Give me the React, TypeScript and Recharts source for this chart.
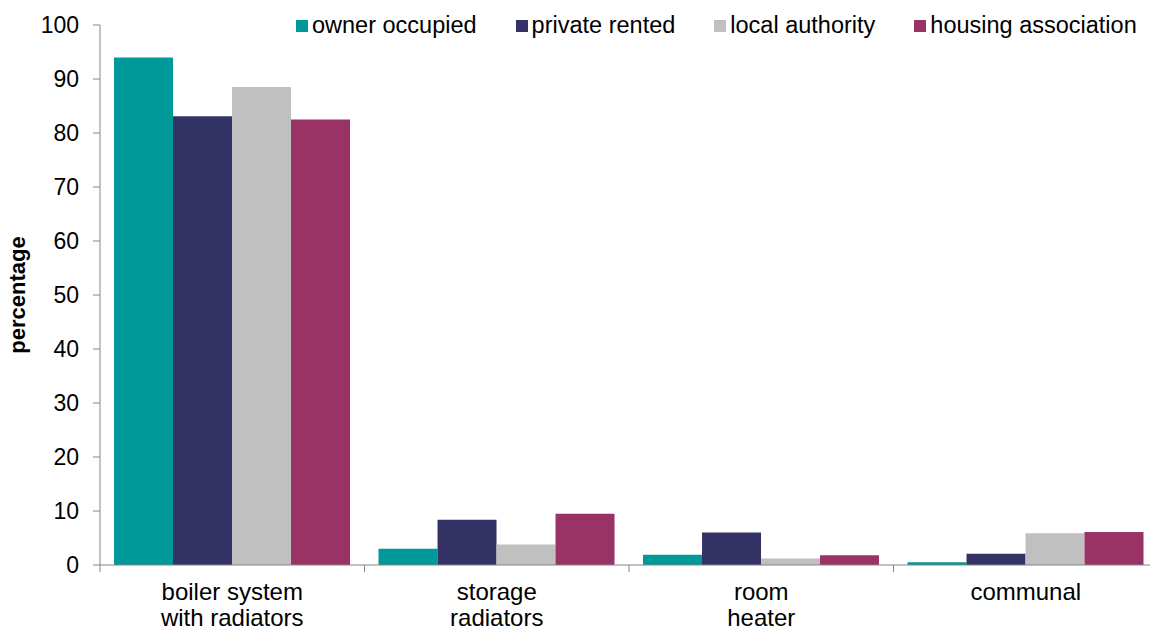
import { Bar, BarChart, Legend, XAxis, YAxis } from "recharts";

const categories = ["boiler system\nwith radiators", "storage\nradiators", "room\nheater", "communal"];
const ownerOccupied = [94.0, 3.0, 1.9, 0.5];
const privateRented = [83.1, 8.4, 6.0, 2.1];
const localAuthority = [88.5, 3.8, 1.2, 5.9];
const housingAssociation = [82.5, 9.5, 1.8, 6.1];
const yTicks = [0, 10, 20, 30, 40, 50, 60, 70, 80, 90, 100];

const series = [
  { key: "owner", name: "owner occupied", color: "#009999" },
  { key: "private", name: "private rented", color: "#333366" },
  { key: "local", name: "local authority", color: "#C0C0C0" },
  { key: "ha", name: "housing association", color: "#993366" },
];

const data = categories.map((c, i) => ({
  cat: c,
  owner: ownerOccupied[i],
  private: privateRented[i],
  local: localAuthority[i],
  ha: housingAssociation[i],
}));

const FONT = "'Liberation Sans', Arial, sans-serif";
const AXIS = "#868686";

// category label plus the Excel-style tick marks between categories
function CategoryTick({ x, y, payload, index, visibleTicksCount }: any) {
  const lines = String(payload.value).split("\n");
  const half = payload.offset ?? 0;
  const top = y - 8;
  return (
    <g>
      <line x1={x - half} x2={x - half} y1={top} y2={top + 7} stroke={AXIS} />
      {index === visibleTicksCount - 1 && (
        <line x1={x + half} x2={x + half} y1={top} y2={top + 7} stroke={AXIS} />
      )}
      <text x={x} y={y} textAnchor="middle" fontFamily={FONT} fontSize={24} fill="#000">
        {lines.map((l, i) => (
          <tspan key={i} x={x} dy={i === 0 ? 27 : 26}>
            {l}
          </tspan>
        ))}
      </text>
    </g>
  );
}

function LegendContent() {
  return (
    <div style={{ display: "flex", gap: 39, fontFamily: FONT, fontSize: 23.5, color: "#000", whiteSpace: "nowrap" }}>
      {series.map((s) => (
        <div key={s.key} style={{ display: "flex", alignItems: "center" }}>
          <span style={{ width: 12, height: 12, background: s.color, marginRight: 4, display: "inline-block" }} />
          {s.name}
        </div>
      ))}
    </div>
  );
}

export default function App() {
  return (
    <div style={{ position: "fixed", left: 0, top: 0, width: 1150, height: 630, overflow: "hidden", background: "#fff" }}>
      <BarChart
        width={1158}
        height={630}
        data={data}
        margin={{ top: 25, right: 0, left: 0, bottom: 0 }}
        barCategoryGap="5.3%"
        barGap={0}
      >
        <XAxis
          dataKey="cat"
          height={65}
          axisLine={{ stroke: AXIS }}
          tickLine={false}
          tick={<CategoryTick />}
          interval={0}
        />
        <YAxis
          width={100}
          domain={[0, 100]}
          ticks={yTicks}
          interval={0}
          tickSize={7}
          tickMargin={14}
          axisLine={{ stroke: AXIS }}
          tickLine={{ stroke: AXIS }}
          tick={{ fill: "#000", fontSize: 23, fontFamily: FONT }}
          label={{
            value: "percentage",
            angle: -90,
            position: "insideLeft",
            offset: 17,
            style: { textAnchor: "middle", fontWeight: "bold", fontSize: 22, fontFamily: FONT, fill: "#000" },
          }}
        />
        <Legend
          verticalAlign="middle"
          align="center"
          content={<LegendContent />}
          wrapperStyle={{ top: 12, left: 296, right: "auto", width: "auto", height: "auto" }}
        />
        {series.map((s) => (
          <Bar key={s.key} dataKey={s.key} name={s.name} fill={s.color} isAnimationActive={false} />
        ))}
      </BarChart>
    </div>
  );
}
